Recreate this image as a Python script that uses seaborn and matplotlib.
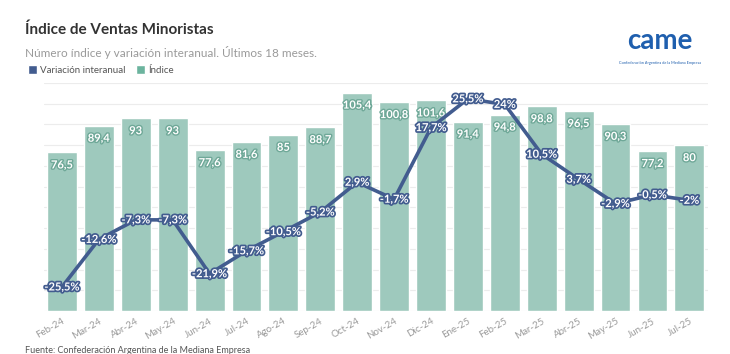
import numpy as np
import matplotlib
matplotlib.use("Agg")
import matplotlib.pyplot as plt
import matplotlib.patheffects as pe
from matplotlib.patches import Patch
import seaborn as sns

# Data
meses = ["Feb-24", "Mar-24", "Abr-24", "May-24", "Jun-24", "Jul-24", "Ago-24", "Sep-24", "Oct-24",
         "Nov-24", "Dic-24", "Ene-25", "Feb-25", "Mar-25", "Abr-25", "May-25", "Jun-25", "Jul-25"]
indice = [76.5, 89.4, 93, 93, 77.6, 81.6, 85, 88.7, 105.4,
          100.8, 101.6, 91.4, 94.8, 98.8, 96.5, 90.3, 77.2, 80]
variacion = [-25.5, -12.6, -7.3, -7.3, -21.9, -15.7, -10.5, -5.2, 2.9,
             -1.7, 17.7, 25.5, 24, 10.5, 3.7, -2.9, -0.5, -2]

bar_color = "#9ec9bd"
bar_dark = "#6fa898"
line_color = "#425c8f"

sns.set_style("white")
plt.rcParams['font.family'] = ['Lato', 'DejaVu Sans']


def fmt(v):
    return f"{v:g}".replace(".", ",")


fig = plt.figure(figsize=(7.3, 3.54), dpi=100)
ax = fig.add_axes([0.0596, 0.1215, 0.910, 0.644])

# Bars (índice)
sns.barplot(x=meses, y=indice, ax=ax, color=bar_color, width=0.81, saturation=1)
ax.set_ylim(0, 110)
ax.set_xlim(-0.5, len(meses) - 0.5)
ax.set_yticks(np.arange(0, 111, 10))
ax.yaxis.grid(True, color="#ececec", linewidth=0.8)
ax.set_axisbelow(True)
ax.set_xlabel("")
ax.set_ylabel("")
sns.despine(ax=ax, left=True, bottom=True)

for i, v in enumerate(indice):
    ax.annotate(fmt(v), (i, v), xytext=(0, -9), textcoords="offset points",
                ha="center", va="center", fontsize=8, fontweight="bold", color="white",
                path_effects=[pe.withStroke(linewidth=2, foreground=bar_dark)])

# Line (variación interanual)
ax2 = ax.twinx()
sns.lineplot(x=np.arange(len(meses)), y=variacion, ax=ax2, color=line_color,
             linewidth=2.6, sort=False)
ax2.set_ylim(-32, 29.8)
ax2.axis("off")
for i, v in enumerate(variacion):
    ax2.annotate(fmt(v) + "%", (i, v), ha="center", va="center", fontsize=8,
                 fontweight="bold", color="white",
                 path_effects=[pe.withStroke(linewidth=2.5, foreground=line_color)])

# twinx turns the left ticks back on, so hide them here
ax.tick_params(axis="y", left=False, right=False, labelleft=False)
ax.tick_params(axis="x", length=0, pad=4, labelsize=7, labelcolor="#9a9a9a")
for lbl in ax.get_xticklabels():
    lbl.set_rotation(30)
    lbl.set_ha("right")
    lbl.set_rotation_mode("anchor")

# Titles
fig.text(0.034, 0.915, "Índice de Ventas Minoristas", fontsize=11, fontweight="bold",
         color="#333333", va="center")
fig.text(0.034, 0.853, "Número índice y variación interanual. Últimos 18 meses.",
         fontsize=8.5, color="#9a9a9a", va="center")

legend_elements = [Patch(facecolor=line_color, label="Variación interanual"),
                   Patch(facecolor="#6cb49e", label="Índice")]
fig.legend(handles=legend_elements, loc="center left", bbox_to_anchor=(0.026, 0.803),
           ncol=2, frameon=False, fontsize=7, handlelength=1, handleheight=1,
           handletextpad=0.3, columnspacing=1.0, labelcolor="#555555")

# Logo
fig.text(0.904, 0.885, "came", fontsize=20, fontweight="bold", color="#1f5fae",
         ha="center", va="center")
fig.text(0.904, 0.822, "Confederación Argentina de la Mediana Empresa", fontsize=2.8,
         color="#1f5fae", ha="center", va="center")

fig.text(0.034, 0.01, "Fuente: Confederación Argentina de la Mediana Empresa",
         fontsize=6.5, color="#555555", va="center")

plt.savefig("out.png", dpi=100)
